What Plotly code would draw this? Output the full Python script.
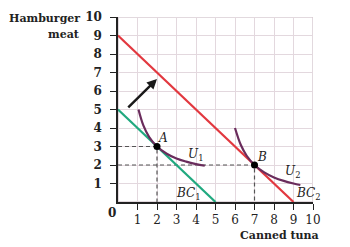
import plotly.graph_objects as go

# Budget constraints
bc1_x = [0, 5]
bc1_y = [5, 0]
bc2_x = [0, 9]
bc2_y = [9, 0]

# Indifference curves
u1_x = [1.05, 1.3, 1.6, 2.0, 2.5, 3.0, 3.5, 4.0, 4.45]
u1_y = [5.0, 4.14, 3.51, 3.0, 2.61, 2.35, 2.18, 2.05, 1.96]
u2_x = [6.0, 6.3, 6.6, 7.0, 7.5, 8.0, 8.5, 9.0, 9.35]
u2_y = [4.0, 3.08, 2.5, 2.0, 1.6, 1.33, 1.14, 1.0, 0.92]

# Optimal points
pt_names = ["A", "B"]
pt_x = [2, 7]
pt_y = [3, 2]

x_ticks = [1, 2, 3, 4, 5, 6, 7, 8, 9, 10]
y_ticks = [1, 2, 3, 4, 5, 6, 7, 8, 9, 10]

FONT = "DejaVu Serif"
RED = "#e2383f"
GREEN = "#20a97f"
PURPLE = "#6a2c5c"
TXT = "#222222"

fig = go.Figure()

# dashed guide lines
for px, py in zip(pt_x, pt_y):
    fig.add_trace(go.Scatter(x=[0, px, px], y=[py, py, 0], mode="lines",
                             line=dict(color="#555555", width=1.2, dash="4px,3px"),
                             hoverinfo="skip", showlegend=False))

fig.add_trace(go.Scatter(x=bc2_x, y=bc2_y, mode="lines", line=dict(color=RED, width=2.2), showlegend=False))
fig.add_trace(go.Scatter(x=bc1_x, y=bc1_y, mode="lines", line=dict(color=GREEN, width=2.2), showlegend=False))
fig.add_trace(go.Scatter(x=u1_x, y=u1_y, mode="lines", line=dict(color=PURPLE, width=2.2, shape="spline"), showlegend=False))
fig.add_trace(go.Scatter(x=u2_x, y=u2_y, mode="lines", line=dict(color=PURPLE, width=2.2, shape="spline"), showlegend=False))
fig.add_trace(go.Scatter(x=pt_x, y=pt_y, mode="markers", marker=dict(color="black", size=7), showlegend=False))

# arrow
fig.add_annotation(x=2.0, y=6.65, ax=0.45, ay=5.03, xref="x", yref="y", axref="x", ayref="y",
                   showarrow=True, arrowhead=2, arrowsize=0.8, arrowwidth=2.5, arrowcolor="#1a1a1a", text="")

labels = [
    (2.3, 3.45, "<i>A</i>"),
    (7.4, 2.45, "<i>B</i>"),
    (3.95, 2.55, "<i>U</i><sub>1</sub>"),
    (8.95, 1.6, "<i>U</i><sub>2</sub>"),
    (3.6, 0.45, "<i>BC</i><sub>1</sub>"),
    (9.75, 0.45, "<i>BC</i><sub>2</sub>"),
]
for lx, ly, t in labels:
    fig.add_annotation(x=lx, y=ly, text=t, showarrow=False, xref="x", yref="y",
                       font=dict(family=FONT, size=12, color=TXT))

# origin label
fig.add_annotation(x=-0.031, y=-0.06, xref="paper", yref="paper", text="<b>0</b>", showarrow=False,
                   xanchor="center", yanchor="middle",
                   font=dict(family=FONT, size=12, color=TXT))

# axis titles
fig.add_annotation(x=-0.185, y=0.99, xref="paper", yref="paper", text="<b>Hamburger</b>", showarrow=False,
                   xanchor="right", yanchor="middle", font=dict(family=FONT, size=11, color=TXT))
fig.add_annotation(x=-0.185, y=0.906, xref="paper", yref="paper", text="<b>meat</b>", showarrow=False,
                   xanchor="right", yanchor="middle", font=dict(family=FONT, size=11, color=TXT))
fig.add_annotation(x=1.041, y=-0.182, xref="paper", yref="paper", text="<b>Canned tuna</b>", showarrow=False,
                   xanchor="right", yanchor="middle", font=dict(family=FONT, size=11, color=TXT))

fig.update_xaxes(range=[0, 10], tickvals=x_ticks, ticktext=[str(v) for v in x_ticks],
                 showgrid=True, gridcolor="#e3d8de", gridwidth=1,
                 showline=True, linecolor=TXT, linewidth=1.5, mirror=False,
                 ticks="outside", ticklen=6, tickcolor=TXT, zeroline=False,
                 tickfont=dict(family=FONT, size=12, color=TXT))
fig.update_yaxes(range=[0, 10], tickvals=y_ticks, ticktext=["<b>%d</b>" % v for v in y_ticks],
                 showgrid=True, gridcolor="#e3d8de", gridwidth=1,
                 showline=True, linecolor=TXT, linewidth=1.5, mirror=False,
                 ticks="outside", ticklen=6, tickcolor=TXT, zeroline=False, ticklabelstandoff=6,
                 tickfont=dict(family=FONT, size=12, color=TXT))

fig.add_shape(type="rect", x0=0, x1=10, y0=0, y1=10, xref="x", yref="y",
              line=dict(color="#d9cdd3", width=1.5), layer="below")

fig.update_layout(width=350, height=247, margin=dict(l=118, r=37, t=10, b=45),
                  plot_bgcolor="white", paper_bgcolor="white", showlegend=False)

fig.write_html("out.html")
